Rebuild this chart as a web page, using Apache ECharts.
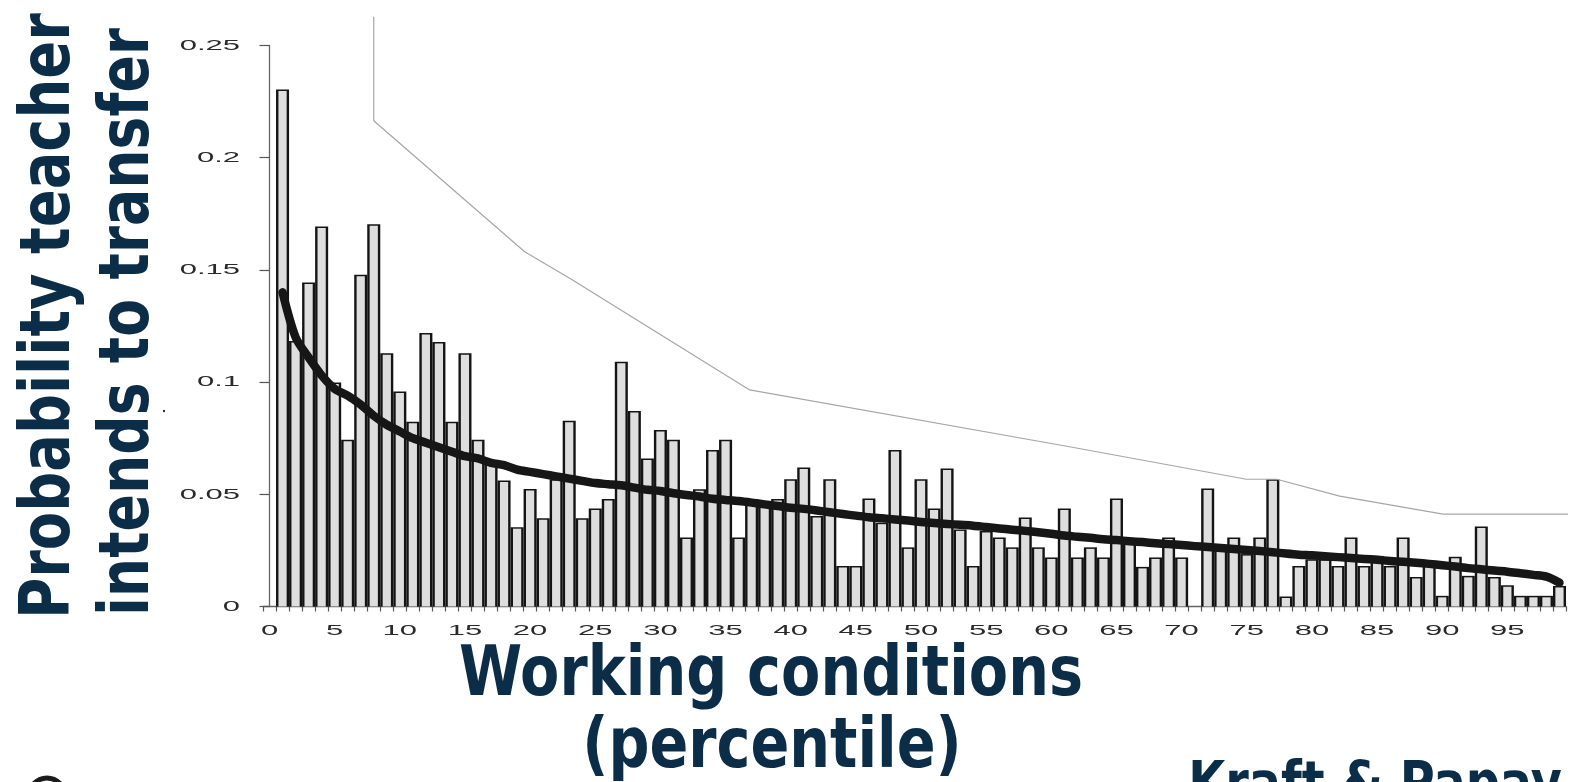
<!DOCTYPE html>
<html>
<head>
<meta charset="utf-8">
<script src="https://cdn.jsdelivr.net/npm/echarts@6/dist/echarts.min.js"></script>
<style>
  html, body { margin: 0; padding: 0; background: #ffffff; }
  #chart { width: 1585px; height: 782px; }
</style>
</head>
<body>
<div id="chart"></div>
<script>
// Working-conditions percentile (0..99); percentile 0 has no school
const percentiles = ['0','1','2','3','4','5','6','7','8','9','10','11','12','13','14','15','16','17','18','19',
  '20','21','22','23','24','25','26','27','28','29','30','31','32','33','34','35','36','37','38','39',
  '40','41','42','43','44','45','46','47','48','49','50','51','52','53','54','55','56','57','58','59',
  '60','61','62','63','64','65','66','67','68','69','70','71','72','73','74','75','76','77','78','79',
  '80','81','82','83','84','85','86','87','88','89','90','91','92','93','94','95','96','97','98','99'];

// Share of teachers who intend to transfer, by percentile
const transferShare = [null,
  0.230, 0.118, 0.144, 0.169, 0.0995, 0.074, 0.1475, 0.170, 0.1125, 0.0955,
  0.082, 0.1215, 0.1175, 0.082, 0.1125, 0.074, 0.063, 0.0558, 0.035, 0.052,
  0.039, 0.0564, 0.0824, 0.039, 0.0433, 0.0475, 0.1087, 0.0868, 0.0656, 0.0783,
  0.0739, 0.0304, 0.0519, 0.0694, 0.0739, 0.0304, 0.0475, 0.046, 0.0475, 0.0564,
  0.0616, 0.040, 0.0564, 0.0177, 0.0177, 0.0478, 0.037, 0.0694, 0.026, 0.0564,
  0.0433, 0.0611, 0.034, 0.0177, 0.0333, 0.0304, 0.026, 0.0393, 0.026, 0.0215,
  0.0433, 0.0215, 0.026, 0.0215, 0.0478, 0.030, 0.0173, 0.0215, 0.0304, 0.0215,
  0, 0.0522, 0.027, 0.0304, 0.023, 0.0304, 0.0564, 0.0041, 0.0177, 0.0207,
  0.0207, 0.0177, 0.0304, 0.0177, 0.0222, 0.0177, 0.0304, 0.0128, 0.018, 0.0044,
  0.0218, 0.0133, 0.0353, 0.0128, 0.0091, 0.0044, 0.0044, 0.0044, 0.0088];

// Smoothed fit through the percentile shares
const smoothedShare = [null,
  0.140, 0.120, 0.111, 0.103, 0.097, 0.094, 0.090, 0.085, 0.081, 0.078,
  0.075, 0.073, 0.071, 0.069, 0.067, 0.066, 0.064, 0.063, 0.061, 0.060,
  0.059, 0.058, 0.057, 0.056, 0.055, 0.0545, 0.054, 0.053, 0.052, 0.0515,
  0.0505, 0.0497, 0.049, 0.048, 0.0475, 0.047, 0.0463, 0.0455, 0.0448, 0.044,
  0.0435, 0.0428, 0.042, 0.0412, 0.0405, 0.0398, 0.0393, 0.0388, 0.0383, 0.0377,
  0.0372, 0.0368, 0.0364, 0.036, 0.0354, 0.0348, 0.0342, 0.0337, 0.0331, 0.0324,
  0.0316, 0.0311, 0.0306, 0.0300, 0.0296, 0.0291, 0.0287, 0.0282, 0.0278, 0.0274,
  0.0269, 0.0265, 0.0261, 0.0256, 0.0252, 0.0247, 0.0242, 0.0236, 0.0231, 0.0228,
  0.0224, 0.0220, 0.0216, 0.0212, 0.0208, 0.0203, 0.0199, 0.0195, 0.0190, 0.0184,
  0.0178, 0.0171, 0.0166, 0.0160, 0.0155, 0.0148, 0.0141, 0.0133, 0.0106];

// Thin upper envelope (percentile position, share)
const envelopeX = [8, 8, 19.58, 23.04, 36.85, 61.4, 74.97, 77.3, 82.13, 90.06, 100.9];
const envelopeY = [0.2628, 0.2165, 0.1581, 0.1463, 0.0965, 0.0712, 0.0567, 0.0567, 0.0492, 0.0412, 0.0412];

// Tick labels
const xTickLabels = ['0','5','10','15','20','25','30','35','40','45','50','55','60','65','70','75','80','85','90','95'];
const yTickValues = [0, 0.05, 0.1, 0.15, 0.2, 0.25];
const yTickLabels = ['0', '0.05', '0.1', '0.15', '0.2', '0.25'];

const NAVY = '#0b2d47';
const TITLE_FONT = 'DejaVu Sans';
const TICK_FONT = 'Liberation Sans';

const chart = echarts.init(document.getElementById('chart'), null, { renderer: 'canvas' });

const barData = transferShare.map((v, i) => [i, v]);
const envelopeData = envelopeX.map((x, i) => [x, envelopeY[i]]);

const option = {
  backgroundColor: '#ffffff',
  animation: false,
  grid: { left: 263, right: 19, top: 45.5, bottom: 175.5, containLabel: false },
  xAxis: [
    {
      type: 'category',
      data: percentiles,
      boundaryGap: true,
      axisLine: { show: true, lineStyle: { color: '#666666', width: 1.3 } },
      axisTick: { show: true, interval: 0, length: 5, lineStyle: { color: '#555555', width: 1.2 } },
      axisLabel: { show: false },
      splitLine: { show: false }
    },
    {
      type: 'value',
      min: -0.5,
      max: 99.5,
      show: false
    }
  ],
  yAxis: {
    type: 'value',
    min: 0,
    max: 0.25,
    interval: 0.05,
    axisLine: { show: true, lineStyle: { color: '#666666', width: 1.3 } },
    axisTick: { show: true, length: 10, lineStyle: { color: '#555555', width: 1.2 } },
    axisLabel: { show: false },
    splitLine: { show: false }
  },
  series: [
    {
      name: 'Share intending to transfer',
      type: 'custom',
      xAxisIndex: 0,
      yAxisIndex: 0,
      data: barData,
      encode: { x: 0, y: 1 },
      z: 2,
      renderItem: function (params, api) {
        const v = api.value(1);
        if (v == null || isNaN(v) || v <= 0) return;
        const top = api.coord([api.value(0), v]);
        const base = api.coord([api.value(0), 0]);
        const w = api.size([1, 0])[0];
        const left = top[0] - w / 2;
        const h = base[1] - top[1];
        const side = 2.4;
        return {
          type: 'group',
          children: [
            { type: 'rect', shape: { x: left, y: top[1] - 0.8, width: w, height: h + 0.8 },
              style: { fill: '#141414' } },
            { type: 'rect', shape: { x: left + side, y: top[1] + 0.7, width: w - 2 * side, height: Math.max(0, h - 0.7) },
              style: { fill: '#dedede' } }
          ]
        };
      }
    },
    {
      name: 'Smoothed',
      type: 'line',
      xAxisIndex: 0,
      yAxisIndex: 0,
      data: smoothedShare,
      smooth: 0.3,
      symbol: 'none',
      z: 4,
      lineStyle: { color: '#161616', width: 8.5, cap: 'round', join: 'round' }
    },
    {
      name: 'Envelope',
      type: 'line',
      xAxisIndex: 1,
      yAxisIndex: 0,
      data: envelopeData,
      clip: false,
      symbol: 'none',
      z: 3,
      lineStyle: { color: '#a6a6a6', width: 1.2 }
    }
  ]
};

chart.setOption(option);

// Tick labels and titles
const graphics = [];
xTickLabels.forEach(function (lab) {
  const px = chart.convertToPixel({ xAxisIndex: 0 }, percentiles.indexOf(lab));
  graphics.push({
    type: 'text', x: px, y: 630.5, scaleX: 2.0, silent: true,
    style: { text: lab, fill: '#2a2a2a', font: '15.5px "' + TICK_FONT + '"', align: 'center', verticalAlign: 'middle' }
  });
});
yTickValues.forEach(function (val, i) {
  const py = chart.convertToPixel({ yAxisIndex: 0 }, val);
  graphics.push({
    type: 'text', x: 240, y: py, scaleX: 2.0, silent: true,
    style: { text: yTickLabels[i], fill: '#2a2a2a', font: '15.5px "' + TICK_FONT + '"', align: 'right', verticalAlign: 'middle' }
  });
});

function title(text, x, y, size, sx, rot) {
  graphics.push({
    type: 'text', x: x, y: y, rotation: rot || 0, scaleX: sx, silent: true,
    style: { text: text, fill: NAVY, font: 'bold ' + size + 'px "' + TITLE_FONT + '"', align: 'center', verticalAlign: 'middle' }
  });
}
title('Probability teacher', 51, 316, 69, 0.81, Math.PI / 2);
title('intends to transfer', 130, 322, 69, 0.80, Math.PI / 2);
title('Working conditions', 771, 677, 69, 0.83, 0);
title('(percentile)', 772, 749, 69, 0.83, 0);
title('Kraft & Papay', 1375, 788, 59, 0.81, 0);

// small ring at the lower-left corner and a stray dot
graphics.push({ type: 'circle', shape: { cx: 47, cy: 796, r: 18 }, silent: true,
  style: { fill: 'none', stroke: '#1a1a1a', lineWidth: 5 } });
graphics.push({ type: 'circle', shape: { cx: 164, cy: 411, r: 1.2 }, silent: true,
  style: { fill: '#333333' } });

chart.setOption({ graphic: graphics });
</script>
</body>
</html>
